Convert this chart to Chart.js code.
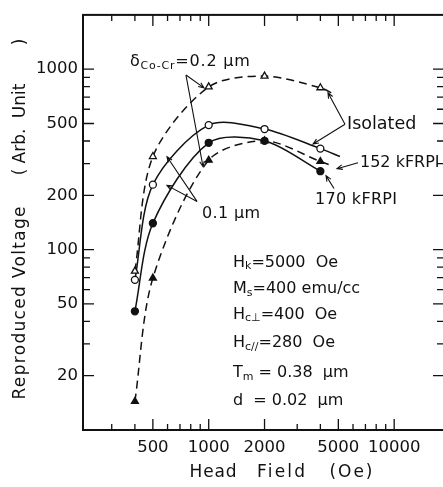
<!DOCTYPE html>
<html>
<head>
<meta charset="utf-8">
<script src="https://cdn.jsdelivr.net/npm/chart.js@4"></script>
<style>
  html, body { margin: 0; padding: 0; background: #fff; overflow: hidden; }
  canvas { display: block; }
</style>
</head>
<body>
<canvas id="grafico-tensao" width="460" height="487"></canvas>
<script>
(function () {
    // ================= DADOS =================
    const campoCabeca = [400, 500, 1000, 2000, 4000]          // Oe
    const isolado02 = [76, 328, 798, 916, 789]                // δ=0.2 µm, isolado
    const isolado01 = [68, 229, 490, 466, 363]                // δ=0.1 µm, isolado
    const kfrpi152 = [14.4, 69.5, 313, 401, 308]              // δ=0.2 µm, 152 kFRPI
    const kfrpi170 = [45.5, 140, 391, 401, 272]               // δ=0.1 µm, 170 kFRPI
    // onde cada curva termina depois do último ponto (sem marcador)
    const fimIsolado02 = [4800, 722]
    const fimIsolado01 = [5100, 328]
    const fim152 = [4600, 292]

    const ticksX = [500, 1000, 2000, 5000, 10000]
    const ticksY = [20, 50, 100, 200, 500, 1000]

    const fonte = 'DejaVu Sans'
    const preto = '#111'

    function pontos(valores, fim) {
        const lista = campoCabeca.map((x, i) => ({ x: x, y: valores[i] }))
        if (fim) lista.push({ x: fim[0], y: fim[1] })
        return lista
    }

    function serie(label, valores, fim, estilo, cheio, tracejado) {
        return {
            label: label,
            data: pontos(valores, fim),
            borderColor: preto,
            borderWidth: 1.5,
            borderDash: tracejado ? [8, 5] : [],
            pointStyle: estilo,
            pointRadius: ctx => ctx.dataIndex < campoCabeca.length ? (estilo === 'triangle' ? 4 : 3.5) : 0,
            pointBackgroundColor: cheio ? preto : '#fff',
            pointBorderColor: preto,
            pointBorderWidth: 1.3,
            tension: 0.3,
            fill: false
        }
    }

    // ================= ANOTAÇÕES (coordenadas no espaço dos dados) =================
    const linhasAnotacao = [
        // δ=0.2 µm
        [[754, 928], [943, 788]],
        [[754, 928], [932, 288]],
        // 0.1 µm
        [[865, 185], [596, 327]],
        [[865, 185], [596, 227]],
        // Isolated
        [[5431, 495], [4397, 740]],
        [[5431, 495], [3652, 385]],
        // 152 kFRPI
        [[6382, 303], [4918, 281]],
        // 170 kFRPI
        [[4738, 218], [4290, 257]]
    ]

    // largura: largura aproximada do texto na figura original (px)
    const textos = [
        { x: 376, y: 1093, largura: 120, partes: [['δ'], ['Co-Cr', true], ['=0.2 µm']] },
        { x: 920, y: 157, largura: 58, partes: [['0.1 µm']] },
        { x: 5569, y: 495, tamanho: 17.5, partes: [['Isolated']] },
        { x: 6544, y: 303, partes: [['152 kFRPI']] },
        { x: 3743, y: 188, largura: 82, partes: [['170 kFRPI']] },
        { x: 1352, y: 84.9, partes: [['H'], ['k', true], ['=5000  Oe']] },
        { x: 1352, y: 60.5, partes: [['M'], ['s', true], ['=400 emu/cc']] },
        { x: 1352, y: 43.6, partes: [['H'], ['c⊥', true], ['=400  Oe']] },
        { x: 1352, y: 30.3, partes: [['H'], ['c//', true], ['=280  Oe']] },
        { x: 1352, y: 20.7, partes: [['T'], ['m', true], [' = 0.38  µm']] },
        { x: 1352, y: 14.6, partes: [['d  = 0.02  µm']] }
    ]

    // palavras dos títulos dos eixos: texto, centro (px ao longo do eixo), largura
    const tituloX = [['Head', 213, 47], ['Field', 281, 48], ['(Oe)', 351, 43]]
    const tituloY = [['Reproduced Voltage', 303, 193], ['(', 172], ['Arb.', 146], ['Unit', 101], [')', 42]]

    function fontePara(indice, tamanho) {
        return indice ? `11px "${fonte}"` : `${tamanho || 16}px "${fonte}"`
    }

    function textoComIndice(ctx, t, x, y) {
        let espaco = 0
        if (t.largura) {
            let w = 0
            t.partes.forEach(([p, indice]) => {
                ctx.font = fontePara(indice, t.tamanho)
                w += ctx.measureText(p).width
            })
            const n = t.partes.reduce((s, p) => s + p[0].length, 0)
            espaco = Math.max(0, (t.largura - w) / (n - 1))
        }
        ctx.letterSpacing = espaco + 'px'
        let cx = x
        t.partes.forEach(([p, indice]) => {
            ctx.font = fontePara(indice, t.tamanho)
            ctx.fillText(p, cx, indice ? y + 4 : y)
            cx += ctx.measureText(p).width
        })
        ctx.letterSpacing = '0px'
    }

    // texto centrado, opcionalmente esticado até uma largura
    function textoCentrado(ctx, texto, x, y, largura) {
        ctx.letterSpacing = '0px'
        if (!largura || texto.length < 2) {
            ctx.textAlign = 'center'
            ctx.fillText(texto, x, y)
            return
        }
        const w = ctx.measureText(texto).width
        ctx.letterSpacing = Math.max(0, (largura - w) / (texto.length - 1)) + 'px'
        ctx.textAlign = 'left'
        ctx.fillText(texto, x - largura / 2, y)
        ctx.letterSpacing = '0px'
    }

    // moldura, marcas internas dos eixos, títulos e anotações
    const desenhoExtra = {
        id: 'desenhoExtra',
        afterDraw(chart) {
            const ctx = chart.ctx
            const a = chart.chartArea
            const sx = chart.scales.x
            const sy = chart.scales.y
            ctx.save()
            ctx.strokeStyle = preto
            ctx.fillStyle = preto

            // ===== moldura =====
            ctx.lineWidth = 2
            ctx.strokeRect(a.left, a.top, a.right - a.left, a.bottom - a.top)

            // ===== marcas dos eixos =====
            ctx.lineWidth = 1.3
            const marcasX = []
            for (let d = 100; d <= 10000; d *= 10) {
                for (let m = 1; m < 10; m++) {
                    const v = d * m
                    if (v >= 300 && v <= 10000) marcasX.push(v)
                }
            }
            marcasX.forEach(v => {
                const px = sx.getPixelForValue(v)
                const tam = ticksX.includes(v) ? 11 : 6
                ctx.beginPath()
                ctx.moveTo(px, a.bottom); ctx.lineTo(px, a.bottom - tam)
                ctx.moveTo(px, a.top); ctx.lineTo(px, a.top + tam)
                ctx.stroke()
            })
            const marcasY = []
            for (let d = 10; d <= 1000; d *= 10) {
                for (let m = 1; m < 10; m++) {
                    const v = d * m
                    if (v >= 20 && v <= 1000) marcasY.push(v)
                }
            }
            marcasY.forEach(v => {
                const py = sy.getPixelForValue(v)
                const tam = ticksY.includes(v) ? 11 : 7
                ctx.beginPath()
                ctx.moveTo(a.left, py); ctx.lineTo(a.left + tam, py)
                ctx.moveTo(a.right, py); ctx.lineTo(a.right - tam - 6, py)
                ctx.stroke()
            })

            // ===== títulos dos eixos =====
            ctx.font = `17px "${fonte}"`
            ctx.textBaseline = 'middle'
            tituloX.forEach(([t, c, largura]) => textoCentrado(ctx, t, c, 473, largura))
            ctx.save()
            ctx.translate(21, 0)
            ctx.rotate(-Math.PI / 2)
            tituloY.forEach(([t, c, largura]) => textoCentrado(ctx, t, -c, 0, largura))
            ctx.restore()

            // ===== anotações =====
            ctx.lineWidth = 1.1
            linhasAnotacao.forEach(([p0, p1]) => {
                const x0 = sx.getPixelForValue(p0[0]), y0 = sy.getPixelForValue(p0[1])
                const x1 = sx.getPixelForValue(p1[0]), y1 = sy.getPixelForValue(p1[1])
                ctx.beginPath()
                ctx.moveTo(x0, y0); ctx.lineTo(x1, y1)
                // ponta de seta
                const ang = Math.atan2(y1 - y0, x1 - x0)
                ctx.moveTo(x1 - 6 * Math.cos(ang - 0.4), y1 - 6 * Math.sin(ang - 0.4))
                ctx.lineTo(x1, y1)
                ctx.lineTo(x1 - 6 * Math.cos(ang + 0.4), y1 - 6 * Math.sin(ang + 0.4))
                ctx.stroke()
            })
            ctx.textAlign = 'left'
            textos.forEach(t => {
                textoComIndice(ctx, t, sx.getPixelForValue(t.x), sy.getPixelForValue(t.y))
            })
            ctx.restore()
        }
    }

    // ================= GRÁFICO =================
    const canvas = document.getElementById('grafico-tensao')
    new Chart(canvas, {
        type: 'line',
        data: {
            datasets: [
                serie('δ=0.2 µm isolated', isolado02, fimIsolado02, 'triangle', false, true),
                serie('δ=0.1 µm isolated', isolado01, fimIsolado01, 'circle', false, false),
                serie('152 kFRPI', kfrpi152, fim152, 'triangle', true, true),
                serie('170 kFRPI', kfrpi170, null, 'circle', true, false)
            ]
        },
        options: {
            responsive: false,
            animation: false,
            layout: { padding: { top: 9, right: 10, left: 0, bottom: 0 } },
            plugins: {
                legend: { display: false },
                tooltip: { enabled: false }
            },
            scales: {
                x: {
                    type: 'logarithmic',
                    min: 210,
                    max: 20000,
                    afterBuildTicks: s => { s.ticks = ticksX.map(v => ({ value: v })) },
                    afterFit: s => { s.height = 57 },
                    grid: { display: false, drawTicks: false },
                    border: { display: false },
                    ticks: {
                        callback: v => String(v),
                        color: preto,
                        font: { family: fonte, size: 16.5 },
                        maxRotation: 0,
                        autoSkip: false,
                        padding: 8
                    }
                },
                y: {
                    type: 'logarithmic',
                    min: 10,
                    max: 2000,
                    afterBuildTicks: s => { s.ticks = ticksY.map(v => ({ value: v })) },
                    afterFit: s => { s.width = 83 },
                    grid: { display: false, drawTicks: false },
                    border: { display: false },
                    ticks: {
                        callback: v => String(v),
                        color: preto,
                        font: { family: fonte, size: 16.5 },
                        autoSkip: false,
                        padding: 5
                    }
                }
            }
        },
        plugins: [desenhoExtra]
    })
})()
</script>
</body>
</html>
